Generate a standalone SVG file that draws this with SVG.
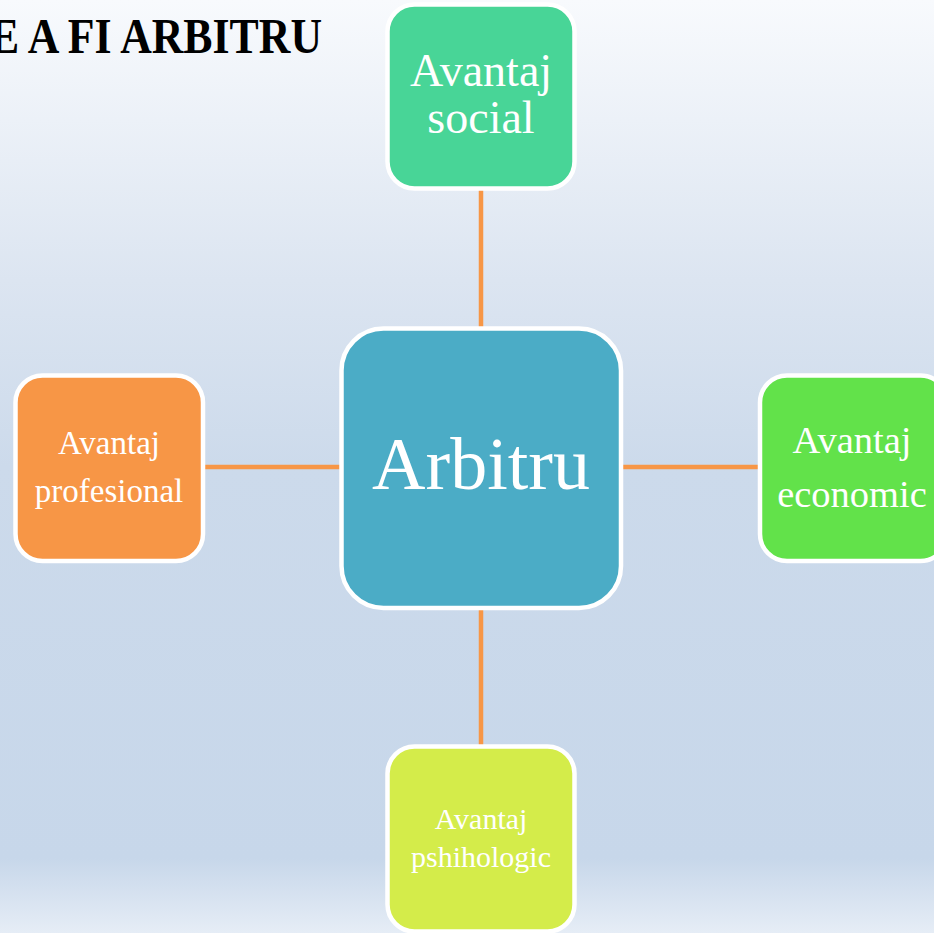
<svg xmlns="http://www.w3.org/2000/svg" width="934" height="933" viewBox="0 0 934 933">
<defs>
<linearGradient id="bg" x1="0" y1="0" x2="0" y2="1">
<stop offset="0" stop-color="#F8FAFD"/>
<stop offset="0.3" stop-color="#DCE5F1"/>
<stop offset="0.5" stop-color="#CCDAEB"/>
<stop offset="0.92" stop-color="#C7D7EA"/>
<stop offset="1" stop-color="#E6EDF6"/>
</linearGradient>
</defs>
<style>
.node{stroke:#FFFFFF;stroke-width:4.5}
.lbl{font-family:"Liberation Serif","Times New Roman",serif;fill:#FFFFFF;text-anchor:middle}
.conn{stroke:#F79646;stroke-width:4.5;fill:none}
</style>
<rect x="0" y="0" width="934" height="933" fill="url(#bg)"/>
<text x="-10" y="53" font-family="'Liberation Serif','Times New Roman',serif" font-weight="bold" font-size="50" fill="#000000" textLength="332" lengthAdjust="spacingAndGlyphs">E A FI ARBITRU</text>
<g id="connectors">
<line class="conn" x1="481" y1="190" x2="481" y2="328"/>
<line class="conn" x1="481" y1="610" x2="481" y2="746"/>
<line class="conn" x1="205" y1="467" x2="341" y2="467"/>
<line class="conn" x1="621" y1="467" x2="759" y2="467"/>
</g>
<g id="node-center">
<rect class="node" x="341.5" y="328.5" width="279.5" height="279.5" rx="42" fill="#4BACC6"/>
<text class="lbl" x="481" y="489" font-size="74">Arbitru</text>
</g>
<g id="node-social">
<rect class="node" x="387.5" y="4.5" width="187" height="184" rx="27" fill="#48D597"/>
<text class="lbl" x="481" y="86" font-size="46">Avantaj</text>
<text class="lbl" x="481" y="133" font-size="46">social</text>
</g>
<g id="node-profesional">
<rect class="node" x="15.5" y="375.5" width="187.5" height="185.5" rx="27" fill="#F79646"/>
<text class="lbl" x="109" y="454" font-size="33">Avantaj</text>
<text class="lbl" x="109" y="502" font-size="33">profesional</text>
</g>
<g id="node-economic">
<rect class="node" x="760" y="375.5" width="187.5" height="185.5" rx="27" fill="#62E24A"/>
<text class="lbl" x="852" y="453" font-size="38.5">Avantaj</text>
<text class="lbl" x="852" y="507" font-size="38.5">economic</text>
</g>
<g id="node-pshihologic">
<rect class="node" x="387.5" y="746.5" width="187" height="185" rx="27" fill="#D4EC4A"/>
<text class="lbl" x="481" y="829" font-size="30">Avantaj</text>
<text class="lbl" x="481" y="867" font-size="30">pshihologic</text>
</g>
</svg>
